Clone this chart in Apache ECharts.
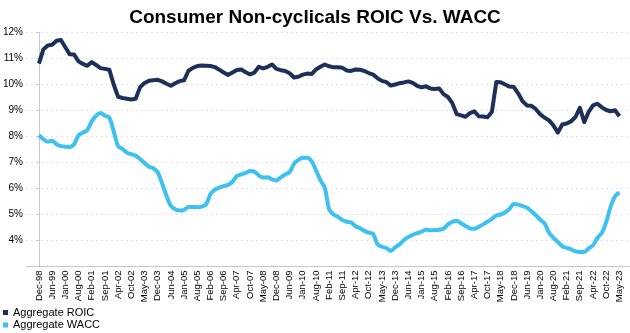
<!DOCTYPE html>
<html>
<head>
<meta charset="utf-8">
<script src="https://cdn.jsdelivr.net/npm/echarts@6/dist/echarts.min.js"></script>
<style>html,body{margin:0;padding:0;background:#fff}#c{width:630px;height:333px}</style>
</head>
<body>
<div id="c"></div>
<script>
const tickLabels = ['Dec-98','Jun-99','Jan-00','Aug-00','Feb-01','Sep-01','Apr-02','Oct-02','May-03','Dec-03','Jun-04','Jan-05','Aug-05','Feb-06','Sep-06','Apr-07','Oct-07','May-08','Dec-08','Jun-09','Jan-10','Aug-10','Feb-11','Sep-11','Apr-12','Oct-12','May-13','Dec-13','Jun-14','Jan-15','Aug-15','Feb-16','Sep-16','Apr-17','Oct-17','May-18','Dec-18','Jun-19','Jan-20','Aug-20','Feb-21','Sep-21','Apr-22','Oct-22','May-23'];
const pointsPerLabel = 3;
const roic = [10.80,11.35,11.50,11.53,11.68,11.71,11.43,11.16,11.15,10.89,10.79,10.72,10.86,10.75,10.63,10.60,10.57,10.00,9.53,9.48,9.45,9.42,9.45,9.90,10.06,10.14,10.16,10.18,10.12,10.03,9.95,10.05,10.13,10.16,10.53,10.64,10.71,10.73,10.72,10.71,10.67,10.57,10.46,10.37,10.46,10.56,10.58,10.47,10.39,10.46,10.68,10.62,10.68,10.77,10.60,10.55,10.52,10.43,10.27,10.30,10.38,10.42,10.40,10.58,10.68,10.77,10.70,10.66,10.66,10.64,10.54,10.52,10.58,10.57,10.52,10.44,10.38,10.24,10.14,10.09,9.96,10.00,10.05,10.08,10.12,10.06,9.95,9.89,9.93,9.85,9.83,9.85,9.63,9.52,9.28,8.86,8.81,8.76,8.90,8.97,8.78,8.77,8.74,8.95,10.10,10.09,10.00,9.92,9.90,9.65,9.35,9.19,9.18,9.05,8.85,8.72,8.62,8.42,8.15,8.46,8.50,8.58,8.75,9.10,8.55,8.95,9.20,9.26,9.12,9.02,8.97,9.01,8.78];
const wacc = [8.05,7.90,7.80,7.84,7.70,7.63,7.61,7.60,7.70,8.05,8.15,8.25,8.58,8.80,8.90,8.80,8.73,8.20,7.63,7.52,7.38,7.32,7.26,7.13,6.98,6.84,6.78,6.62,6.20,5.72,5.33,5.20,5.15,5.18,5.29,5.29,5.28,5.30,5.39,5.78,5.96,6.03,6.09,6.14,6.26,6.48,6.54,6.60,6.67,6.65,6.50,6.42,6.43,6.35,6.31,6.43,6.54,6.63,6.95,7.10,7.18,7.18,7.05,6.70,6.32,6.03,5.20,5.00,4.91,4.79,4.72,4.69,4.55,4.47,4.37,4.30,4.25,3.85,3.76,3.71,3.60,3.74,3.85,4.02,4.14,4.22,4.28,4.34,4.41,4.39,4.40,4.41,4.45,4.62,4.72,4.76,4.66,4.56,4.47,4.45,4.53,4.62,4.72,4.83,4.96,5.00,5.08,5.22,5.40,5.38,5.32,5.26,5.12,4.97,4.80,4.65,4.30,4.10,3.94,3.78,3.72,3.66,3.58,3.56,3.56,3.70,3.82,4.10,4.30,4.72,5.30,5.70,5.85];

const labelPositions = tickLabels.map((_, k) => k * pointsPerLabel);
const chart = echarts.init(document.getElementById('c'));
chart.setOption({
  animation: false,
  textStyle: {fontFamily: 'Liberation Sans, Arial, sans-serif'},
  title: {
    text: 'Consumer Non-cyclicals ROIC Vs. WACC',
    left: 'center', top: 3,
    textStyle: {fontSize: 19, fontWeight: 'bold', color: '#000', fontFamily: 'Liberation Sans, Arial, sans-serif'}
  },
  legend: {
    orient: 'vertical', left: 3, top: 307, height: 26, padding: 0,
    itemWidth: 5, itemHeight: 5, itemGap: 1.5,
    icon: 'rect',
    textStyle: {fontSize: 11, color: '#000'},
    data: ['Aggregate ROIC', 'Aggregate WACC']
  },
  grid: {left: 23, right: 0, top: 32.5, bottom: 66.5},
  xAxis: {
    type: 'value',
    min: -2.94, max: 134.4,
    splitLine: {show: false},
    axisLine: {show: true, lineStyle: {color: '#c8c8c8', width: 1}},
    axisTick: {show: false},
    axisLabel: {
      customValues: labelPositions,
      rotate: 90, fontSize: 9.5, color: '#000', margin: 4,
      formatter: v => tickLabels[Math.round(v / pointsPerLabel)] || ''
    }
  },
  yAxis: {
    type: 'value', min: 3, max: 12, interval: 1,
    axisLine: {show: true, lineStyle: {color: '#c8c8c8'}},
    axisTick: {show: true, length: 3, lineStyle: {color: '#c8c8c8'}},
    splitLine: {show: true, lineStyle: {color: '#e4e4e4', type: [2, 3]}},
    axisLabel: {fontSize: 10, color: '#000', margin: 3, formatter: v => v === 3 ? '' : v + '%'}
  },
  series: [
    {name: 'Aggregate ROIC', type: 'line', data: roic.map((v, i) => [i, v]), showSymbol: false,
     color: '#1c3059', lineStyle: {width: 4, color: '#1c3059', join: 'round'}},
    {name: 'Aggregate WACC', type: 'line', data: wacc.map((v, i) => [i, v]), showSymbol: false, smooth: 0.3,
     color: '#3ec1f0', lineStyle: {width: 4, color: '#3ec1f0', join: 'round'}}
  ]
});
</script>
</body>
</html>
